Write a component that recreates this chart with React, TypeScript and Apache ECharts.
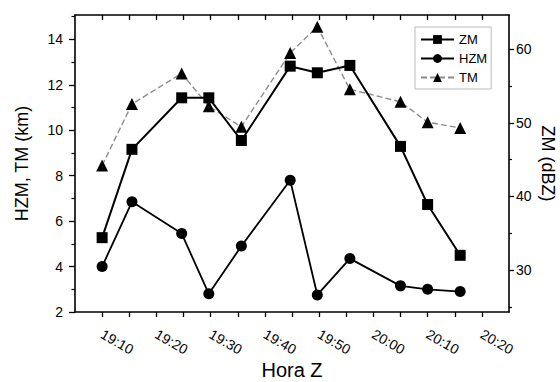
import React, { useEffect, useRef } from "react";
import * as echarts from "echarts";

// Observation times (Hora Z)
const times = [
  "19:10:00", "19:15:30", "19:24:40", "19:29:40", "19:35:40", "19:44:40",
  "19:49:40", "19:55:40", "20:05:00", "20:10:00", "20:16:00",
];
// ZM (dBZ), right axis
const zm = [34.4, 46.4, 53.4, 53.4, 47.6, 57.7, 56.8, 57.8, 46.8, 38.9, 32.0];
// HZM (km), left axis
const hzm = [4.0, 6.85, 5.45, 2.8, 4.9, 7.8, 2.75, 4.35, 3.15, 3.0, 2.9];
// TM (km), left axis
const tm = [8.45, 11.15, 12.5, 11.05, 10.15, 13.4, 14.55, 11.8, 11.25, 10.35, 10.1];

// Axis labels / ticks
const xLabels = ["19:10", "19:20", "19:30", "19:40", "19:50", "20:00", "20:10", "20:20"];
const xStart = "19:05";
const xEnd = "20:25";
const leftLabels = [2, 4, 6, 8, 10, 12, 14];
const leftMinor = [3, 5, 7, 9, 11, 13, 15];
const rightLabels = [30, 40, 50, 60];
const rightMinor = [25, 35, 45, 55];

const toMin = (s: string) => {
  const [h, m, sec] = s.split(":").map(Number);
  return h * 60 + m + (sec || 0) / 60;
};
const fmt = (v: number) => {
  const h = Math.floor(v / 60);
  const m = Math.round(v - h * 60);
  return `${h}:${String(m).padStart(2, "0")}`;
};

const FONT = "'Liberation Sans', Arial, sans-serif";

export default function App() {
  const ref = useRef<HTMLDivElement>(null);
  useEffect(() => {
    if (!ref.current) return;
    const chart = echarts.init(ref.current, undefined, { renderer: "svg" });
    const xMin = toMin(xStart);
    const xMax = toMin(xEnd);
    const xLabelVals = xLabels.map(toMin);
    const xTickVals: number[] = [];
    xLabelVals.forEach((v, i) => {
      xTickVals.push(v);
      if (i < xLabelVals.length - 1) xTickVals.push((v + xLabelVals[i + 1]) / 2);
    });
    const lMin = 2, lMax = 15.07, rMin = 24.3, rMax = 64.65;
    const black = "#000";
    const axisLine = { show: true, lineStyle: { color: black, width: 1.6 } };

    chart.setOption({
      animation: false,
      backgroundColor: "#fff",
      textStyle: { fontFamily: FONT },
      grid: { left: 75, right: 51, top: 15, bottom: 70, containLabel: false, outerBoundsMode: "none" },
      legend: {
        data: ["ZM", "HZM", "TM"],
        orient: "vertical",
        left: 415,
        top: 27,
        itemWidth: 33,
        itemHeight: 11,
        itemGap: 6,
        padding: [6, 4, 5, 5],
        borderColor: "#bbb",
        borderWidth: 1,
        backgroundColor: "#fff",
        textStyle: { fontSize: 13, color: black, fontFamily: FONT },
      },
      xAxis: [
        {
          type: "value",
          position: "bottom",
          min: xMin,
          max: xMax,
          axisLine,
          axisTick: { show: true, inside: false, length: 5, customValues: xTickVals, lineStyle: { color: black, width: 1.3 } },
          axisLabel: {
            customValues: xLabelVals,
            rotate: -30,
            margin: 21,
            formatter: (v: number) => fmt(v),
            fontSize: 14,
            color: black,
            fontFamily: FONT,
          },
          splitLine: { show: false },
          name: "Hora Z",
          nameLocation: "middle",
          nameGap: 48,
          nameMoveOverlap: false,
          nameTextStyle: { fontSize: 20, color: black, fontFamily: FONT },
        },
        {
          type: "value",
          position: "top",
          min: xMin,
          max: xMax,
          axisLine,
          axisTick: { show: true, inside: true, length: 5, customValues: xTickVals, lineStyle: { color: black, width: 1.3 } },
          axisLabel: { show: false },
          splitLine: { show: false },
        },
      ],
      yAxis: [
        {
          type: "value",
          position: "left",
          min: lMin,
          max: lMax,
          axisLine,
          axisTick: { show: true, length: 6, customValues: leftLabels, lineStyle: { color: black, width: 1.3 } },
          axisLabel: { customValues: leftLabels, margin: 12, fontSize: 14, color: black, fontFamily: FONT },
          splitLine: { show: false },
          name: "HZM, TM (km)",
          nameLocation: "middle",
          nameRotate: 90,
          nameGap: 44,
          nameMoveOverlap: false,
          nameTextStyle: { fontSize: 18, color: black, fontFamily: FONT },
        },
        {
          type: "value",
          position: "right",
          min: rMin,
          max: rMax,
          axisLine,
          axisTick: { show: true, length: 5, customValues: rightLabels, lineStyle: { color: black, width: 1.3 } },
          axisLabel: { customValues: rightLabels, margin: 7, fontSize: 14, color: black, fontFamily: FONT },
          splitLine: { show: false },
          name: "ZM (dBZ)",
          nameLocation: "middle",
          nameRotate: -90,
          nameGap: 30,
          nameMoveOverlap: false,
          nameTextStyle: { fontSize: 18, color: black, fontFamily: FONT },
        },
        {
          type: "value",
          position: "left",
          min: lMin,
          max: lMax,
          axisLine: { show: false },
          axisTick: { show: true, length: 3.5, customValues: leftMinor, lineStyle: { color: black, width: 1.2 } },
          axisLabel: { show: false },
          splitLine: { show: false },
        },
        {
          type: "value",
          position: "right",
          min: rMin,
          max: rMax,
          axisLine: { show: false },
          axisTick: { show: true, length: 3, customValues: rightMinor, lineStyle: { color: black, width: 1.2 } },
          axisLabel: { show: false },
          splitLine: { show: false },
        },
      ],
      series: [
        {
          name: "TM",
          type: "line",
          yAxisIndex: 0,
          data: times.map((t, i) => [toMin(t), tm[i]]),
          symbol: "triangle",
          symbolSize: 12,
          lineStyle: { color: "#8c8c8c", width: 1.4, type: [6, 3] },
          itemStyle: { color: black },
          z: 2,
        },
        {
          name: "ZM",
          type: "line",
          yAxisIndex: 1,
          data: times.map((t, i) => [toMin(t), zm[i]]),
          symbol: "rect",
          symbolSize: 11,
          lineStyle: { color: black, width: 2 },
          itemStyle: { color: black },
          z: 3,
        },
        {
          name: "HZM",
          type: "line",
          yAxisIndex: 0,
          data: times.map((t, i) => [toMin(t), hzm[i]]),
          symbol: "circle",
          symbolSize: 11,
          lineStyle: { color: black, width: 1.8 },
          itemStyle: { color: black },
          z: 3,
        },
      ],
    });
    return () => chart.dispose();
  }, []);
  return (
    <div
      ref={ref}
      style={{ position: "fixed", left: 0, top: 0, width: 560, height: 382, background: "#fff" }}
    />
  );
}
